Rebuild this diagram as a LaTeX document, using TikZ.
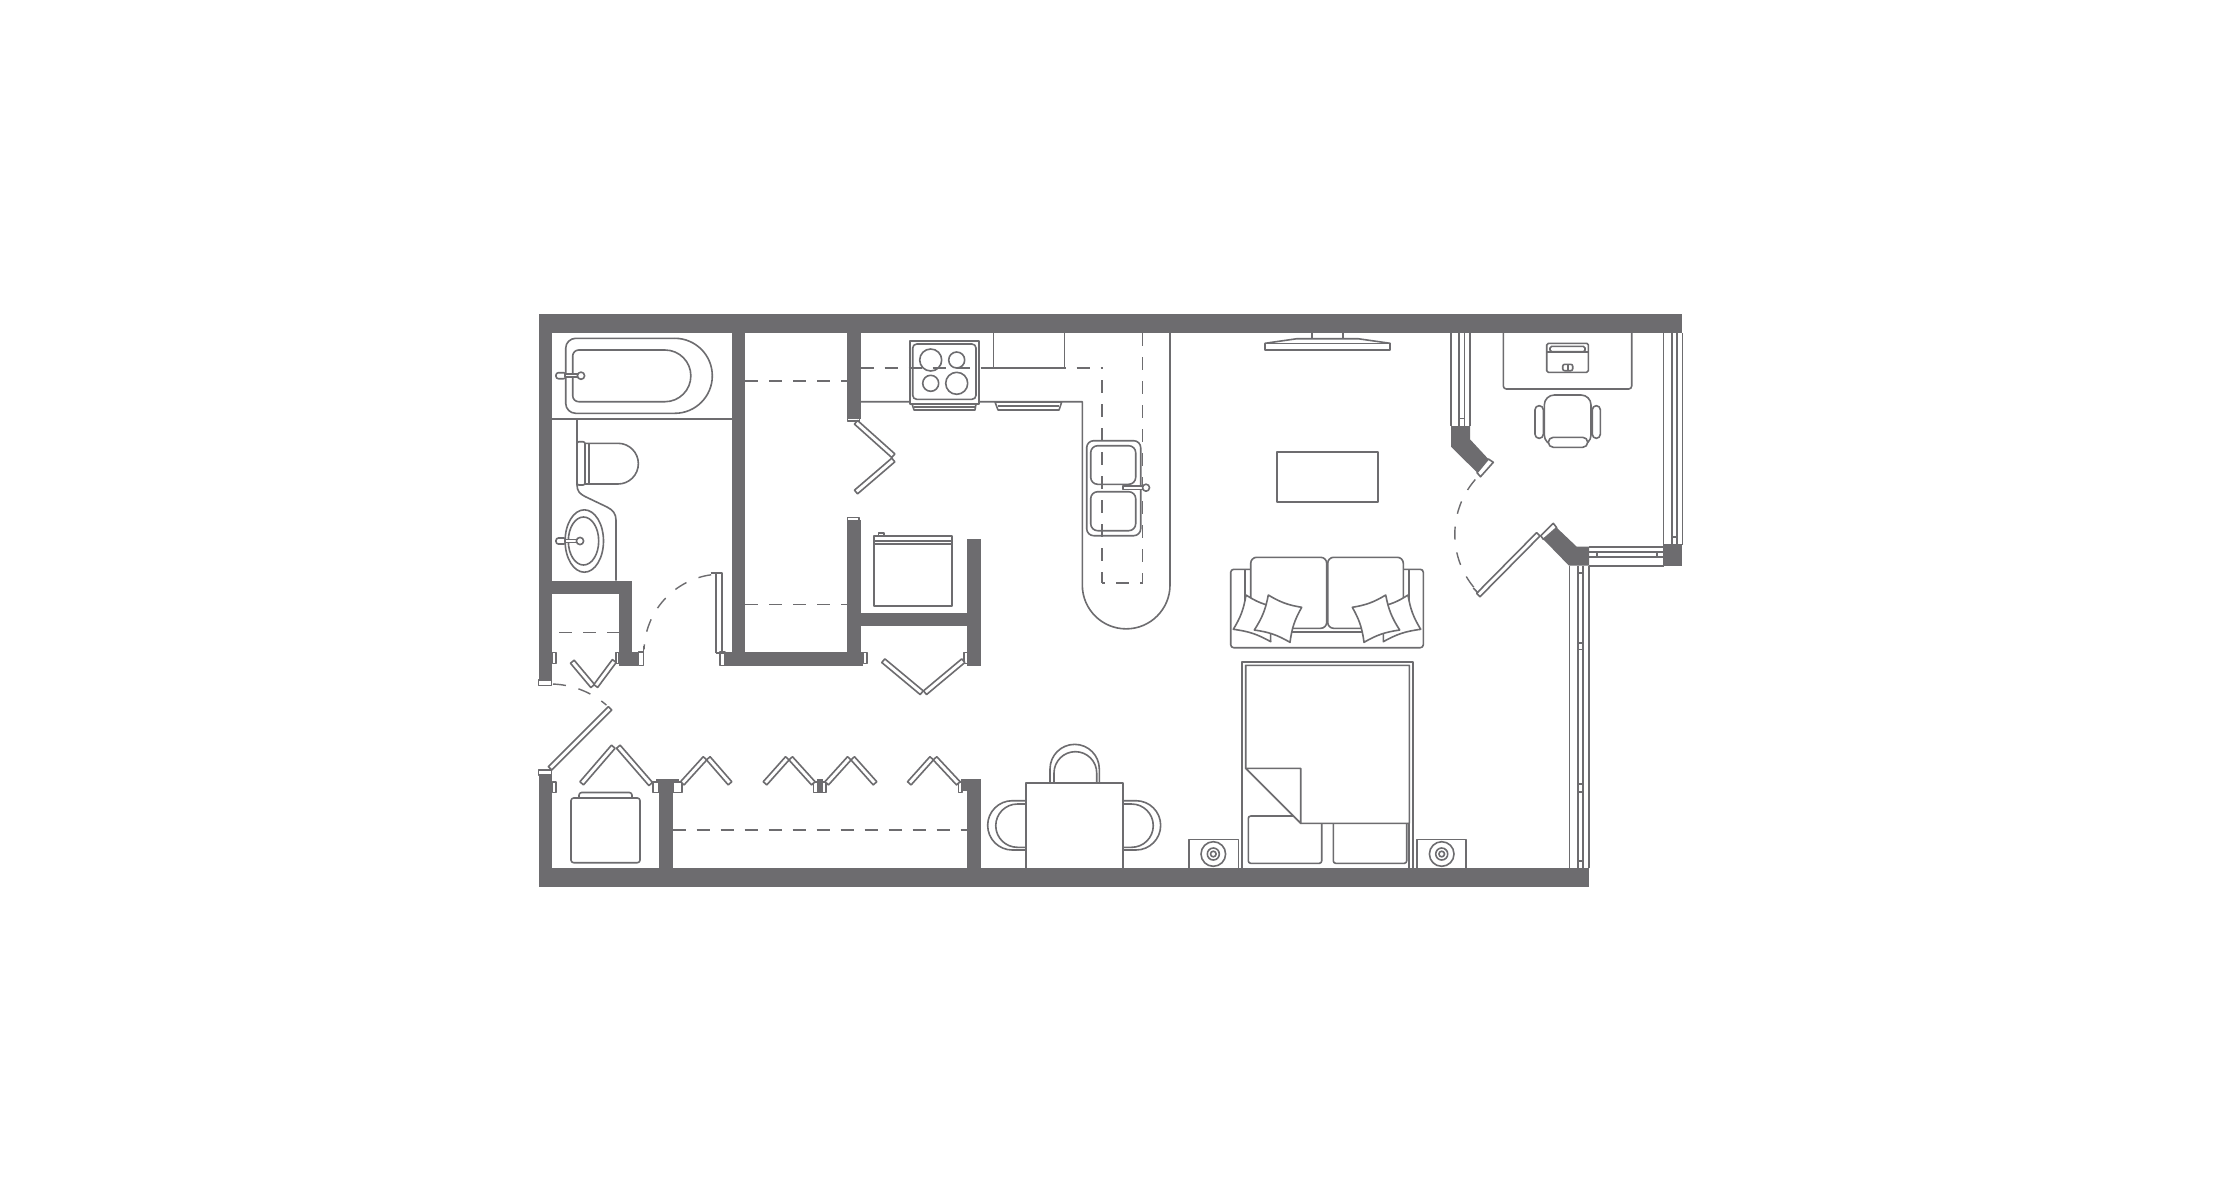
\documentclass[tikz,border=0pt]{standalone}
\usetikzlibrary{calc}
\definecolor{wallc}{HTML}{6D6C6F}
\tikzset{
  ln/.style={draw=wallc,line width=0.8pt,line join=round},
  wf/.style={ln,fill=white},
  wallf/.style={fill=wallc,draw=none},
  dashthick/.style={draw=wallc,line width=0.95pt,dash pattern=on 6.5pt off 5.5pt},
  dashthin/.style={draw=wallc,line width=0.65pt,dash pattern=on 6.5pt off 5.5pt},
  dasharcs/.style={draw=wallc,line width=0.7pt,dash pattern=on 6.5pt off 6.5pt}
}
\newcommand\bipanel[4]{\draw[wf] ($(#1,#2)!1.2pt!90:(#3,#4)$) -- ($(#3,#4)!1.2pt!-90:(#1,#2)$) -- ($(#3,#4)!1.2pt!90:(#1,#2)$) -- ($(#1,#2)!1.2pt!-90:(#3,#4)$) -- cycle;}
\newcommand\wallrect[4]{\fill[wallf] (#1,#2) rectangle (#3,#4);}
\newcommand\capr[4]{\draw[wf] (#1,#2) rectangle (#3,#4);}
\newcommand\darc[5]{\draw[dasharcs] plot[smooth,domain=#4:#5,samples=24] ({#1+#3*cos(\x)},{#2+#3*sin(\x)});}
\newcommand\pillow[8]{\draw[wf] (#1,#2) to[bend right=11] (#3,#4) to[bend right=11] (#5,#6) to[bend right=11] (#7,#8) to[bend right=11] cycle;}
\newcommand\faucet[3]{% x of handle, y, x of head
  \draw[wf,rounded corners=1.2pt] (#1,#2-3) rectangle (#1+10,#2+3);
  \draw[wf] (#1+9,#2-1.5) rectangle (#3-2,#2+1.5);
  \draw[wf] (#3,#2) circle[radius=3.6];
}
\newcommand\nightst[3]{%
  \draw[ln] (#1,867.7) -- (#1,839.3) -- (#1+49.3,839.3) -- (#1+49.3,867.7);
  \draw[ln] (#2,#3) circle[radius=12.3];
  \draw[ln] (#2,#3) circle[radius=6];
  \draw[ln] (#2,#3) circle[radius=2.8];
}
\begin{document}
\begin{tikzpicture}[x=0.5pt,y=-0.5pt]
\useasboundingbox (0,0) rectangle (2220,1200);
\fill[white] (0,0) rectangle (2220,1200);

% ---- bath
\draw[ln] (552.3,418.7) -- (731.7,418.7);
\draw[ln,rounded corners=5pt] (674.8,413.3) -- (565.7,413.3) -- (565.7,338.3) -- (674.8,338.3);
\draw[ln] (674.8,338.3) arc[start angle=-90,end angle=90,radius=37.5];
\draw[ln,rounded corners=3pt] (665,401.7) -- (572.7,401.7) -- (572.7,350) -- (665,350);
\draw[ln] (665,350) arc[start angle=-90,end angle=90,radius=25.85];
\faucet{556}{375.7}{581}
% vanity
\draw[ln] (577,418.7) -- (577,485) .. controls (577,491) and (580,494) .. (585,496.5) -- (607,507) .. controls (613,510) and (616,514) .. (616,520) -- (616,580.7);
% toilet
\draw[wf,rounded corners=1pt] (577,441.7) -- (585,441.7) -- (585,485) -- (577,485) -- cycle;
\draw[ln] (589,443.3) -- (589,484);
\draw[ln] (585,443.3) -- (618,443.3) arc[start angle=-90,end angle=90,radius=20.35] -- (585,484);
% sink
\draw[ln] (584.3,541) ellipse[x radius=19.2,y radius=31.2];
\draw[ln] (583.5,541) ellipse[x radius=15.2,y radius=24];
\faucet{556}{541}{580}

% ---- kitchen
\draw[ln] (860.7,401.7) -- (1082.3,401.7) -- (1082.3,585) arc[start angle=180,end angle=0,radius=43.85] -- (1170,333);
\draw[ln] (993.3,333) -- (993.3,367.7) -- (1064.3,367.7) -- (1064.3,333);
\draw[wf] (910,341) rectangle (978.7,404);
\draw[ln,rounded corners=2pt] (912.7,344) rectangle (976,399.3);
\draw[ln] (930.7,360) circle[radius=11];
\draw[ln] (956.7,360) circle[radius=8];
\draw[ln] (930.7,383.3) circle[radius=8];
\draw[ln] (956.7,383.3) circle[radius=11];
\draw[wf] (912,404) -- (976,404) -- (975,410) -- (914,410) -- cycle;
\draw[ln] (914,407) -- (975,407);
\draw[wf] (995,402) -- (1061.7,402) -- (1059,410) -- (998,410) -- cycle;
\draw[ln] (998,406) -- (1059,406);
% kitchen sink
\draw[wf,rounded corners=3.5pt] (1086.7,440.7) rectangle (1140.7,535.7);
\draw[ln,rounded corners=3.5pt] (1090.7,445.7) rectangle (1135.7,484.3);
\draw[ln,rounded corners=3.5pt] (1090.7,491.7) rectangle (1135.7,530.7);
% dashed lines
\draw[dashthick] (860.7,367.7) -- (1103,367.7);
\draw[dashthick] (1102,380) -- (1102,583);
\draw[dashthin] (1142.7,333) -- (1142.7,583) -- (1102,583);
\draw[wf] (1123,486) rectangle (1143,489.4);
\draw[wf] (1146,487.7) circle[radius=3.5];
\draw[dashthick] (745.3,381) -- (847.3,381);
\draw[dashthin] (745.3,604.3) -- (847.3,604.3);
\draw[dashthin] (559,632.3) -- (619,632.3);
\draw[dashthick] (672.7,830) -- (967.3,830);

% ---- washer
\draw[ln] (874,606) -- (952,606) -- (952,543.7) -- (874,543.7) -- cycle;
\draw[wf] (874,536) rectangle (952,541);
\draw[ln] (874,541) -- (874,543.7) (952,541) -- (952,543.7);
\draw[wf] (878.3,533) rectangle (884,536);
% ---- dryer/stacked unit by entry
\draw[ln,rounded corners=1.3pt] (571,798) rectangle (640,862.7);
\draw[ln,rounded corners=1.3pt] (579,798) -- (579,792.5) -- (632,792.5) -- (632,798);

% ---- walls
\wallrect{538.5}{313.5}{1682.3}{333}
\wallrect{538.5}{332}{552.3}{680}
\wallrect{538.5}{775}{552.3}{887.3}
\wallrect{538.5}{867.7}{1589.3}{887.3}
\wallrect{731.7}{332}{745.3}{665.7}
\wallrect{725}{651.7}{863.3}{665.7}
\wallrect{847.3}{332}{860.7}{419}
\wallrect{847.3}{520}{860.7}{665.7}
\wallrect{860.7}{612.7}{967.3}{626}
\wallrect{967.3}{539}{980.7}{665.7}
\wallrect{552.3}{580.7}{632.3}{594}
\wallrect{619}{594}{632.3}{665.7}
\wallrect{619}{651.7}{638.3}{665.7}
\wallrect{659}{779}{672.7}{868}
\wallrect{655.7}{779}{679}{784}
\wallrect{967.3}{779}{980.7}{868}
\wallrect{961}{779}{967.3}{791}

% caps and jambs
\capr{538.5}{680}{551.5}{685.3}
\capr{538.5}{770}{551.5}{775}
\capr{847.3}{418}{859.5}{420.8}
\capr{847.3}{517.3}{859}{521}
\capr{720}{652}{725}{665.4}
\capr{638.3}{652}{643.3}{665.4}
\capr{552.3}{652.3}{555.7}{663.3}
\capr{615.7}{652.3}{619}{663.3}
\capr{863.3}{652.3}{866.7}{663.3}
\capr{964}{652.3}{967.3}{663.3}
\capr{552.3}{782}{555.7}{792.3}
\capr{652.8}{782}{659}{792.3}
\capr{672.7}{782}{681.7}{792.3}
\capr{958.3}{782}{962}{792.3}
\capr{813.3}{782}{826}{792.3}
\wallrect{816.5}{779}{823}{792.3}
\draw[ln] (716,653) -- (716,573) -- (721.7,573) -- (721.7,653) (716,653) -- (731.7,653);
\draw[ln] (710.7,573) -- (716,573);
\draw[ln] (643.3,646) -- (643.3,652);

% ---- bifold panels
\bipanel{856}{422.3}{893.3}{455.7}
\bipanel{893.3}{460}{856}{492}
\bipanel{572.3}{661.7}{592.7}{686}
\bipanel{614.3}{661}{595.7}{686}
\bipanel{883.3}{660.7}{921.7}{692.7}
\bipanel{963.3}{660.7}{925}{692.7}
\bipanel{550}{768.3}{610}{708.3}
\bipanel{581.7}{783.3}{613.3}{746.7}
\bipanel{650.7}{784}{618.3}{746.7}
\bipanel{682.3}{783.3}{705}{758.3}
\bipanel{730}{783.3}{708.3}{758.3}
\bipanel{765}{783.3}{787.3}{758.3}
\bipanel{813.3}{783.3}{790.7}{758.3}
\bipanel{826.7}{783.3}{849.3}{758.3}
\bipanel{875}{783.3}{852.7}{758.3}
\bipanel{909.3}{783.3}{931.7}{758.3}
\bipanel{958.3}{783.3}{935}{758.3}
% door arcs
\darc{722}{652}{78}{262}{182}
\darc{550}{770}{86}{272}{311}
\darc{1538.3}{534.3}{83.5}{221}{140}

% ---- TV and table
\draw[ln] (1311.7,333) -- (1311.7,338.7) -- (1342.7,338.7) -- (1342.7,333);
\draw[wf] (1265,343.3) -- (1297,338.7) -- (1358,338.7) -- (1390,343.3) -- (1390,350) -- (1265,350) -- cycle;
\draw[ln] (1265,343.3) -- (1390,343.3);
\draw[ln] (1277,451.7) rectangle (1378,502);

% ---- sofa
\draw[wf,rounded corners=1.5pt] (1230.7,569.3) rectangle (1423.3,647.7);
\draw[ln] (1245,569.3) -- (1245,600) (1409,569.3) -- (1409,600);
\draw[ln] (1250,631.7) -- (1404,631.7);
\draw[wf,rounded corners=3pt] (1250.7,557.3) rectangle (1326.7,628.3);
\draw[wf,rounded corners=3pt] (1327.7,557.3) rectangle (1403.3,628.3);
\pillow{1246}{595}{1276}{607}{1270.7}{641.7}{1233.3}{629.3}
\pillow{1268.3}{595}{1301.7}{607.3}{1290}{642.3}{1254.3}{630}
\pillow{1378}{607}{1408}{595}{1420.7}{629.3}{1383.3}{641.7}
\pillow{1352.3}{607.3}{1385.7}{595}{1399.7}{630}{1364}{642.3}

% ---- bed
\draw[ln] (1242,867.7) -- (1242,662) -- (1412.7,662) -- (1412.7,867.7);
\draw[ln] (1409,867.7) -- (1409,823.3);
\draw[wf,rounded corners=1.2pt] (1248.3,816) rectangle (1321.7,863.3);
\draw[wf,rounded corners=1.2pt] (1333.3,816) rectangle (1406.7,863.3);
\draw[wf] (1245.7,665.3) -- (1409.3,665.3) -- (1409.3,823.3) -- (1300.7,823.3) -- (1245.7,768.3) -- cycle;
\draw[wf] (1245.7,768.3) -- (1300.7,768.3) -- (1300.7,823.3) -- cycle;
\nightst{1189}{1213.3}{854}
\nightst{1416.7}{1441.7}{854}

% ---- dining
\draw[ln] (1050,782.7) -- (1050,769) arc[start angle=180,end angle=360,radius=24.65] -- (1099.3,782.7);
\draw[ln] (1054,782.7) -- (1054,773) arc[start angle=180,end angle=360,radius=21.35] -- (1096.7,782.7);
\draw[ln] (1025.7,800.7) -- (1012.3,800.7) arc[start angle=270,end angle=90,radius=24.65] -- (1025.7,850);
\draw[ln] (1025.7,804) -- (1017.4,804) arc[start angle=270,end angle=90,radius=21.65] -- (1025.7,847.3);
\draw[ln] (1122.7,800.7) -- (1136,800.7) arc[start angle=-90,end angle=90,radius=24.65] -- (1122.7,850);
\draw[ln] (1122.7,804) -- (1131.6,804) arc[start angle=-90,end angle=90,radius=21.65] -- (1122.7,847.3);
\draw[ln] (1025.7,867.7) -- (1025.7,782.7) -- (1122.7,782.7) -- (1122.7,867.7);

% ---- windows
\draw[ln] (1451,333) -- (1451,426) (1470,333) -- (1470,426) (1459,333) -- (1459,426) (1464.3,333) -- (1464.3,426) (1459,418.3) -- (1464.3,418.3);
\draw[ln] (1663.3,333) -- (1663.3,545) (1682.3,333) -- (1682.3,545) (1671.7,333) -- (1671.7,545) (1677,333) -- (1677,545) (1671.7,536.7) -- (1677,536.7);
\draw[ln] (1589,546.7) -- (1664,546.7) (1589,551.7) -- (1664,551.7) (1589,556.7) -- (1664,556.7) (1589,565.7) -- (1664,565.7) (1596.7,551.7) -- (1596.7,556.7) (1656.7,551.7) -- (1656.7,556.7);
\draw[ln] (1569.3,565.7) -- (1569.3,868) (1589,565.7) -- (1589,868) (1577.7,565.7) -- (1577.7,868) (1582.7,565.7) -- (1582.7,868);
\draw[ln] (1577.7,573) -- (1582.7,573) (1577.7,642.7) -- (1582.7,642.7) (1577.7,649.3) -- (1582.7,649.3) (1577.7,784) -- (1582.7,784) (1577.7,791.7) -- (1582.7,791.7) (1577.7,861) -- (1582.7,861);
\fill[wallf] (1663.3,544.3) rectangle (1682.3,565.7);
\fill[wallf] (1451,426) -- (1470,426) -- (1470,439.3) -- (1488.3,459) -- (1477.3,472.7) -- (1451,446.7) -- cycle;
\draw[wf] (1488.3,459) -- (1493.3,462.3) -- (1480.5,476.7) -- (1477,472.7) -- cycle;
\fill[wallf] (1556.7,527.7) -- (1576.7,546.7) -- (1589,546.7) -- (1589,565.7) -- (1569,565.7) -- (1543.3,539.3) -- cycle;
\draw[wf] (1553.3,523.3) -- (1556.7,527.7) -- (1543.3,539.3) -- (1540.7,535.7) -- cycle;
\bipanel{1538.3}{534.3}{1478.3}{595}
\draw[ln] (1473.3,588) -- (1478,593);

% ---- office
\draw[ln,rounded corners=1.5pt] (1503.3,333) -- (1503.3,389) -- (1631.7,389) -- (1631.7,333);
\draw[ln,rounded corners=0.8pt] (1546.7,343.3) rectangle (1588.3,372.3);
\draw[ln] (1546.7,351.7) -- (1588.3,351.7);
\draw[ln,rounded corners=0.8pt] (1550,346.3) rectangle (1585,351.7);
\draw[ln,rounded corners=1pt] (1562.7,364.3) rectangle (1572.7,370.7);
\draw[ln] (1567.7,364.3) -- (1567.7,370.7);
\draw[ln,rounded corners=2pt] (1535,405.7) rectangle (1543.3,438.3);
\draw[ln,rounded corners=2pt] (1592.3,405.7) rectangle (1600.3,438.3);
\draw[ln] (1561,447.3) arc[start angle=180,end angle=0,x radius=6.65,y radius=-4.4];
\draw[wf,rounded corners=5pt] (1544.3,395) rectangle (1591,445);
\draw[wf,rounded corners=2.5pt] (1548.3,437.3) rectangle (1587.7,447.3);
\end{tikzpicture}
\end{document}
